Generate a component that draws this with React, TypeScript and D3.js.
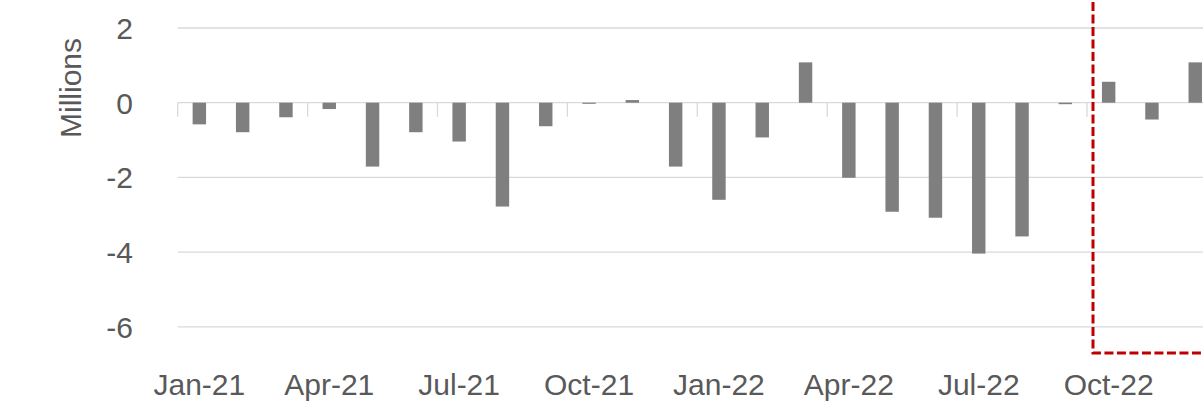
import * as d3 from 'd3';
import React, { useEffect, useRef } from 'react';

const months = [
  "Jan-21", "Feb-21", "Mar-21", "Apr-21", "May-21", "Jun-21",
  "Jul-21", "Aug-21", "Sep-21", "Oct-21", "Nov-21", "Dec-21",
  "Jan-22", "Feb-22", "Mar-22", "Apr-22", "May-22", "Jun-22",
  "Jul-22", "Aug-22", "Sep-22", "Oct-22", "Nov-22", "Dec-22"
];

const values = [
  -0.58, -0.79, -0.39, -0.17, -1.71, -0.79,
  -1.04, -2.78, -0.63, -0.03, 0.07, -1.71,
  -2.6, -0.93, 1.08, -2.01, -2.92, -3.08,
  -4.04, -3.58, -0.04, 0.56, -0.45, 1.08
];

const xTickLabels = ["Jan-21", "Apr-21", "Jul-21", "Oct-21", "Jan-22", "Apr-22", "Jul-22", "Oct-22"];
const yTicks = [2, 0, -2, -4, -6];
const highlightFrom = "Oct-22";

const App: React.FC = () => {
  const svgRef = useRef<SVGSVGElement>(null);

  useEffect(() => {
    if (!svgRef.current) { return; }
    const svg = d3.select(svgRef.current);
    svg.selectAll("*").remove();

    const font = "'Liberation Sans', Arial, sans-serif";
    const textColor = "#595959";
    const left = 177.7;
    const step = 43.3;

    const xScale = d3.scaleBand<string>()
      .domain(months)
      .range([left, left + step * months.length])
      .paddingInner(0.69)
      .paddingOuter(0.345);

    const yScale = d3.scaleLinear()
      .domain([-6, 2])
      .range([326.8, 28]);

    const gap = (xScale.step() - xScale.bandwidth()) / 2;

    // gridlines
    svg.append("g")
      .selectAll("line")
      .data(yTicks)
      .enter().append("line")
      .attr("x1", left)
      .attr("x2", 1203)
      .attr("y1", d => yScale(d))
      .attr("y2", d => yScale(d))
      .attr("stroke", "#d9d9d9")
      .attr("stroke-width", 1.3);

    // category tick marks on zero line
    svg.append("g")
      .selectAll("line")
      .data(months.filter((_, i) => i % 3 === 0))
      .enter().append("line")
      .attr("x1", d => xScale(d)! - gap)
      .attr("x2", d => xScale(d)! - gap)
      .attr("y1", yScale(0))
      .attr("y2", yScale(0) + 14)
      .attr("stroke", "#d9d9d9")
      .attr("stroke-width", 1.3);

    // bars
    svg.append("g")
      .selectAll("rect")
      .data(months.map((m, i) => ({ m, v: values[i] })))
      .enter().append("rect")
      .attr("x", d => xScale(d.m)!)
      .attr("width", xScale.bandwidth())
      .attr("y", d => yScale(Math.max(0, d.v)))
      .attr("height", d => Math.abs(yScale(d.v) - yScale(0)))
      .attr("fill", "#7f7f7f");

    // y labels
    svg.append("g")
      .selectAll("text")
      .data(yTicks)
      .enter().append("text")
      .attr("x", 133)
      .attr("y", d => yScale(d))
      .attr("dy", "0.36em")
      .attr("text-anchor", "end")
      .attr("font-family", font)
      .attr("font-size", 30)
      .attr("fill", textColor)
      .text(d => `${d}`);

    // x labels
    svg.append("g")
      .selectAll("text")
      .data(xTickLabels)
      .enter().append("text")
      .attr("x", d => xScale(d)! + xScale.bandwidth() / 2)
      .attr("y", 395)
      .attr("text-anchor", "middle")
      .attr("font-family", font)
      .attr("font-size", 30)
      .attr("fill", textColor)
      .text(d => d);

    // axis title
    svg.append("text")
      .attr("transform", "translate(81,88) rotate(-90)")
      .attr("text-anchor", "middle")
      .attr("font-family", font)
      .attr("font-size", 30)
      .attr("fill", textColor)
      .text("Millions");

    // highlight box
    const hx = xScale(highlightFrom)! - gap + 6;
    svg.append("rect")
      .attr("x", hx)
      .attr("y", -20)
      .attr("width", 1203 - hx + 20)
      .attr("height", yScale(-6.7) + 20)
      .attr("fill", "none")
      .attr("stroke", "#c00000")
      .attr("stroke-width", 3)
      .attr("stroke-dasharray", "9,3.5");
  }, []);

  return (
    <div style={{ position: "absolute", left: 0, top: 0, width: 1203, height: 402, background: "#fff" }}>
      <svg ref={svgRef} width={1203} height={402} style={{ display: "block" }} />
    </div>
  );
};

export default App;
